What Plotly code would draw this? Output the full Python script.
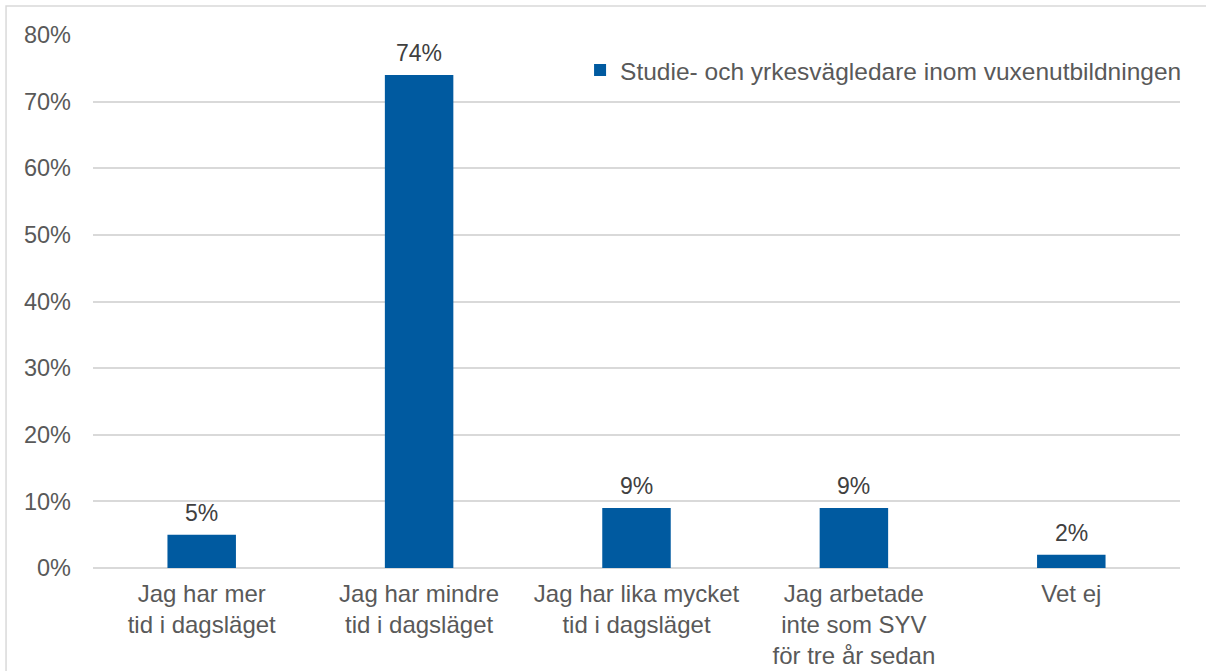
import plotly.graph_objects as go

categories = [
    "Jag har mer<br>tid i dagsläget",
    "Jag har mindre<br>tid i dagsläget",
    "Jag har lika mycket<br>tid i dagsläget",
    "Jag arbetade<br>inte som SYV<br>för tre år sedan",
    "Vet ej",
]
values = [5, 74, 9, 9, 2]
series_name = "Studie- och yrkesvägledare inom vuxenutbildningen"
y_ticks = [0, 10, 20, 30, 40, 50, 60, 70, 80]
y_tick_labels = [f"{v}%" for v in y_ticks]

FONT = "Liberation Sans, Arial, sans-serif"
BLUE = "#005AA0"
GRID = "#D9D9D9"

fig = go.Figure()
fig.add_trace(go.Bar(
    x=categories,
    y=values,
    name=series_name,
    marker=dict(color=BLUE, line=dict(width=0)),
    showlegend=True,
))

for c, v in zip(categories, values):
    fig.add_annotation(
        x=c, y=v, text=f"{v}%", showarrow=False,
        yanchor="bottom", yshift=7,
        font=dict(family=FONT, size=23, color="#404040"),
    )

fig.update_layout(
    width=1206, height=671,
    margin=dict(l=93, r=26, t=35, b=103, autoexpand=False),
    paper_bgcolor="white",
    plot_bgcolor="white",
    bargap=0.685,
    font=dict(family=FONT, size=24, color="#595959"),
    showlegend=True,
    legend=dict(
        x=1.0065, xanchor="right", y=0.934, yanchor="middle",
        bgcolor="rgba(0,0,0,0)",
        font=dict(family=FONT, size=24.5, color="#595959"),
        itemwidth=30,
        borderwidth=0,
    ),
    xaxis=dict(
        showgrid=False, showline=False, ticks="",
        automargin=False,
        ticklabelstandoff=9,
        tickfont=dict(family=FONT, size=24, color="#595959"),
    ),
    yaxis=dict(
        range=[0, 80],
        tickvals=y_ticks,
        ticktext=y_tick_labels,
        automargin=False,
        showgrid=True, gridcolor=GRID, gridwidth=1.5,
        zeroline=True, zerolinecolor=GRID, zerolinewidth=1.5,
        showline=False, ticks="",
        ticklabelstandoff=21,
        tickfont=dict(family=FONT, size=23.5, color="#595959"),
    ),
    shapes=[dict(
        type="rect", xref="paper", yref="paper",
        x0=-0.0800, x1=1.2, y0=-0.5, y1=1.0544,
        line=dict(color=GRID, width=1.5),
        fillcolor="rgba(0,0,0,0)", layer="below",
    )],
)

fig.write_html(
    "out.html",
    config={"displayModeBar": False},
    post_script=(
        "document.body.style.margin='0';"
        "document.body.style.padding='0';"
        "document.body.style.overflow='hidden';"
        "document.documentElement.style.overflow='hidden';"
    ),
)
